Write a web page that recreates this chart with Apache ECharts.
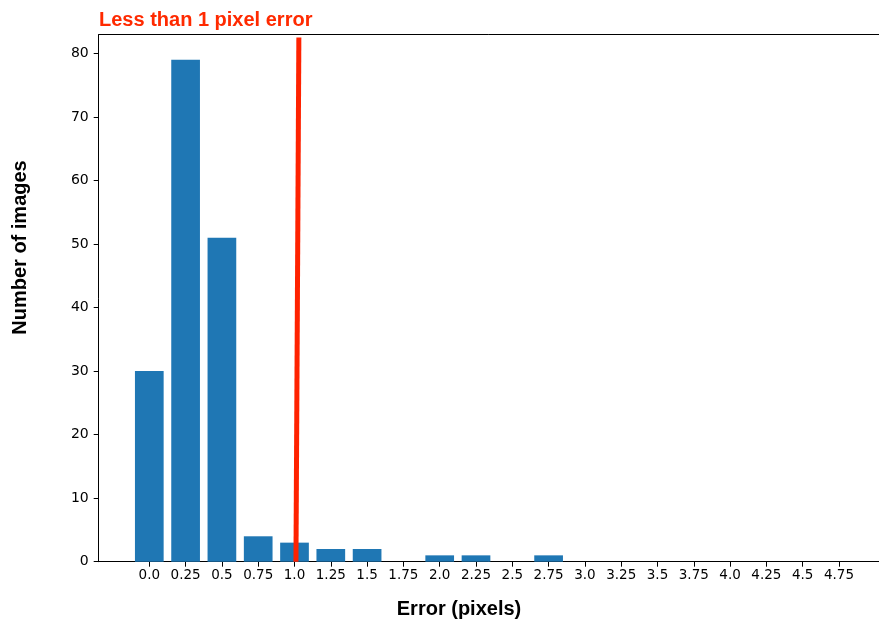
<!DOCTYPE html>
<html>
<head>
<meta charset="utf-8">
<script src="https://cdn.jsdelivr.net/npm/echarts@6/dist/echarts.min.js"></script>
<style>
  html, body { margin: 0; padding: 0; background: #fff; }
  #chart { width: 879px; height: 626px; }
</style>
</head>
<body>
<div id="chart"></div>
<script>
// Histogram of per-image error, binned in quarter-pixel steps
const tickLabels = ['0.0', '0.25', '0.5', '0.75', '1.0', '1.25', '1.5', '1.75', '2.0', '2.25',
                    '2.5', '2.75', '3.0', '3.25', '3.5', '3.75', '4.0', '4.25', '4.5', '4.75'];
const imageCounts = [30, 79, 51, 4, 3, 2, 2, 0, 1, 1, 0, 1, 0, 0, 0, 0, 0, 0, 0, 0];
const yTicks = [0, 10, 20, 30, 40, 50, 60, 70, 80];
// threshold marker: bin position at its foot and at its top
const thresholdLine = [[4.04, 0], [4.12, 82.5]];

const binIndex = tickLabels.map((_, i) => i);
const tickFont = { fontFamily: 'DejaVu Sans', fontSize: 13.5, color: '#000' };
const headFont = 'Liberation Sans';
const spine = { color: '#000', width: 1 };

// bin axis runs from -1.394 and keeps going past the right edge of the page
const xMin = -1.394, xMax = 20.102;

const chart = echarts.init(document.getElementById('chart'), null, { renderer: 'canvas' });
chart.setOption({
  animation: false,
  backgroundColor: '#fff',
  title: {
    text: 'Less than 1 pixel error',
    left: 94, top: 5,
    textStyle: { fontFamily: headFont, fontWeight: 'bold', fontSize: 20, color: '#ff2a00' }
  },
  grid: { left: 98.7, top: 34.7, right: 0, bottom: 64.3, show: false },
  xAxis: [{
    type: 'value',
    min: xMin, max: xMax,
    splitLine: { show: false },
    axisLine: { show: true, onZero: false, lineStyle: spine },
    axisTick: { show: true, length: 5, customValues: binIndex, lineStyle: { color: '#000' } },
    axisLabel: {
      ...tickFont, margin: 7,
      customValues: binIndex,
      formatter: v => tickLabels[Math.round(v)]
    }
  }, {
    // top spine
    type: 'value', position: 'top',
    min: xMin, max: xMax,
    splitLine: { show: false },
    axisLine: { show: true, onZero: false, lineStyle: spine },
    axisTick: { show: false },
    axisLabel: { show: false }
  }],
  yAxis: {
    type: 'value',
    min: 0, max: 82.95,
    splitLine: { show: false },
    axisLine: { show: true, onZero: false, lineStyle: spine },
    axisTick: { show: true, length: 5, customValues: yTicks, lineStyle: { color: '#000' } },
    axisLabel: { ...tickFont, fontSize: 14, margin: 10, customValues: yTicks }
  },
  series: [{
    type: 'bar',
    xAxisIndex: 0,
    data: imageCounts.map((v, i) => [binIndex[i], v]),
    barWidth: 28.7,
    itemStyle: { color: '#1f77b4' },
    emphasis: { disabled: true },
    markLine: {
      silent: true,
      symbol: ['none', 'none'],
      label: { show: false },
      lineStyle: { color: '#ff2200', width: 5, type: 'solid' },
      data: [[{ coord: thresholdLine[0] }, { coord: thresholdLine[1] }]]
    }
  }],
  graphic: [
    {
      type: 'text',
      x: 20.5, y: 247.5,
      rotation: Math.PI / 2,
      style: {
        text: 'Number of images',
        fontFamily: headFont, fontWeight: 'bold', fontSize: 20, fill: '#000',
        align: 'center', verticalAlign: 'middle'
      }
    },
    {
      type: 'text',
      x: 459, y: 609,
      style: {
        text: 'Error (pixels)',
        fontFamily: headFont, fontWeight: 'bold', fontSize: 20, fill: '#000',
        align: 'center', verticalAlign: 'middle'
      }
    }
  ]
});
</script>
</body>
</html>
